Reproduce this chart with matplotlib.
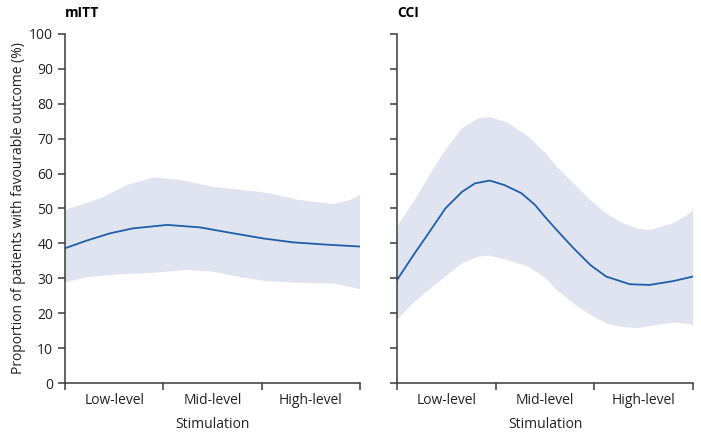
import matplotlib
matplotlib.use("Agg")
import matplotlib.pyplot as plt

plt.rcParams['font.family'] = ['Open Sans', 'DejaVu Sans']

# Data, x on a 0-3 stimulation scale
levels = ['Low-level', 'Mid-level', 'High-level']

mitt_x = [0, 0.22, 0.46, 0.69, 1.04, 1.37, 1.71, 2.02, 2.32, 2.63, 3.0]
mitt_mean = [38.6, 40.8, 42.9, 44.3, 45.3, 44.6, 42.9, 41.4, 40.3, 39.7, 39.1]

mitt_up_x = [0, 0.36, 0.63, 0.9, 1.17, 1.51, 2.05, 2.39, 2.73, 2.90, 3.0]
mitt_up = [49.6, 52.9, 56.7, 58.9, 58.2, 56.2, 54.5, 52.4, 51.3, 52.4, 53.9]

mitt_lo_x = [0, 0.22, 0.53, 0.8, 1.04, 1.24, 1.51, 1.78, 2.05, 2.39, 2.73, 3.0]
mitt_lo = [28.8, 30.3, 31.1, 31.4, 31.9, 32.4, 31.9, 30.3, 29.2, 28.7, 28.5, 26.9]

cci_x = [0, 0.18, 0.32, 0.49, 0.66, 0.79, 0.94, 1.09, 1.26, 1.40, 1.50,
         1.62, 1.79, 1.96, 2.12, 2.36, 2.56, 2.80, 3.0]
cci_mean = [29.5, 37.2, 42.9, 50.0, 54.8, 57.2, 58.0, 56.7, 54.4, 51.0, 47.6,
            43.8, 38.6, 33.8, 30.5, 28.3, 28.1, 29.2, 30.5]

cci_band_x = [0, 0.18, 0.32, 0.49, 0.66, 0.82, 0.94, 1.12, 1.33, 1.50,
              1.62, 1.79, 1.96, 2.12, 2.29, 2.45, 2.56, 2.80, 2.94, 3.0]
cci_up = [44.8, 52.4, 59.1, 66.8, 73.0, 75.8, 76.2, 74.6, 70.6, 66.0,
          62.0, 57.2, 52.4, 48.6, 45.8, 44.2, 43.8, 45.8, 48.1, 49.6]
cci_lo = [18.1, 23.3, 26.6, 30.5, 34.3, 36.2, 36.5, 35.2, 33.3, 30.2,
          26.6, 22.8, 19.5, 17.1, 16.0, 15.7, 16.3, 17.3, 17.0, 16.6]

band_col = '#dfe4f0'
line_col = '#1f5ea8'
spine_col = '#3a3a3a'

fig = plt.figure(figsize=(7.01, 4.34), dpi=100)
ax1 = fig.add_axes([0.0927, 0.1175, 0.4209, 0.8042])
ax2 = fig.add_axes([0.5663, 0.1175, 0.4223, 0.8042])

panels = [
    (ax1, 'mITT', mitt_up_x, mitt_up, mitt_lo_x, mitt_lo, mitt_x, mitt_mean),
    (ax2, 'CCI', cci_band_x, cci_up, cci_band_x, cci_lo, cci_x, cci_mean),
]

for ax, title, ux, up, lx, lo, mx, mean in panels:
    # band polygon: upper bound forward, lower bound backward
    ax.fill(ux + lx[::-1], up + lo[::-1], color=band_col, lw=0)
    ax.plot(mx, mean, color=line_col, lw=1.3)

    ax.set_xlim(0, 3)
    ax.set_ylim(0, 100)
    ax.set_yticks(range(0, 101, 10))
    ax.set_xticks([0, 1, 2, 3])
    ax.set_xticklabels([])
    ax.set_xticks([0.5, 1.5, 2.5], minor=True)
    ax.set_xticklabels(levels, minor=True)
    ax.tick_params(axis='x', which='minor', length=0, pad=7, labelsize=10, colors='#222222')
    ax.tick_params(axis='both', which='major', length=5, width=1.1, color=spine_col,
                   labelsize=10, labelcolor='#222222', direction='out')
    for s in ['top', 'right']:
        ax.spines[s].set_visible(False)
    for s in ['left', 'bottom']:
        ax.spines[s].set_color(spine_col)
        ax.spines[s].set_linewidth(1.1)
    ax.set_xlabel('Stimulation', fontsize=10, color='#222222', labelpad=7)
    ax.set_title(title, loc='left', fontsize=10, fontweight='bold', pad=12)

ax1.set_ylabel('Proportion of patients with favourable outcome (%)', fontsize=10,
               color='#222222', labelpad=2)
ax2.set_yticklabels([])

fig.savefig('out.png', dpi=100)
